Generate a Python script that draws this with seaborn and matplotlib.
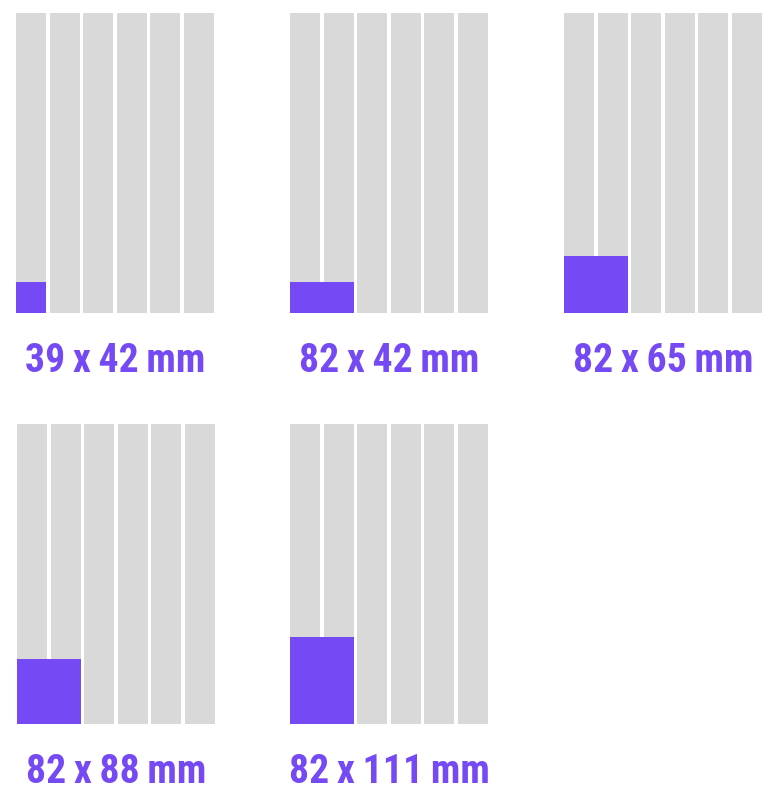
import matplotlib
matplotlib.use('Agg')
import matplotlib.pyplot as plt
from matplotlib import font_manager
import pandas as pd
import seaborn as sns

# ad formats, as labelled (mm)
ad_width_mm = [39, 82, 82, 82, 82]
ad_height_mm = [42, 42, 65, 88, 111]
# how many page columns each ad spans
ad_columns = [1, 2, 2, 2, 2]
# height of the purple block as drawn on the page (mm)
block_height_mm = [40, 40, 74, 85, 113]
page_columns = ['c1', 'c2', 'c3', 'c4', 'c5', 'c6']
page_height_mm = 390

GRAY = '#d9d9d9'
PURPLE = '#754af5'
W, H = 778, 791

# panel layout in pixels (left, top of the page block)
panel_left = [16, 290, 564, 17, 290]
panel_top = [13, 13, 13, 424, 424]
panel_w, panel_h = 198, 300
bar_w = 0.89

sns.set_theme(style='white')
available = {f.name for f in font_manager.fontManager.ttflist}
label_font = next(
    (f for f in ['Liberation Sans Narrow', 'Roboto Condensed', 'Roboto']
     if f in available),
    'DejaVu Sans'
)
plt.rcParams['font.family'] = [label_font, 'DejaVu Sans']

fig = plt.figure(figsize=(W / 100, H / 100), dpi=100)
fig.patch.set_facecolor('white')

page = pd.DataFrame({
    'column': page_columns,
    'height': [page_height_mm] * len(page_columns)
})

thin = '\u2009'
labels = []
for i in range(len(ad_width_mm)):
    left, top = panel_left[i], panel_top[i]
    ax = fig.add_axes([
        left / W, 1 - (top + panel_h) / H, panel_w / W, panel_h / H
    ])
    sns.barplot(
        data=page, x='column', y='height', color=GRAY, saturation=1,
        width=bar_w, linewidth=0, ax=ax
    )
    ax.bar(
        -bar_w / 2, block_height_mm[i], width=ad_columns[i] - 1 + bar_w,
        align='edge', color=PURPLE, linewidth=0, zorder=3
    )
    ax.set_xlim(-bar_w / 2, len(page_columns) - 1 + bar_w / 2)
    ax.set_ylim(0, page_height_mm)
    ax.axis('off')

    t = fig.text(
        (left + panel_w / 2) / W, 1 - (top + panel_h + 59) / H,
        f'{ad_width_mm[i]}{thin}x{thin}{ad_height_mm[i]}{thin}mm',
        ha='center', va='baseline', color=PURPLE, fontweight='heavy',
        fontsize=29
    )
    labels.append(t)

# fit the label size to the width seen in the reference (~178 px)
renderer = fig.canvas.get_renderer()
width_px = labels[0].get_window_extent(renderer).width
size = 29 * 180 / width_px
size = min(size, 30)
for t in labels:
    t.set_fontsize(size)

fig.savefig('out.png', dpi=100, facecolor='white')
